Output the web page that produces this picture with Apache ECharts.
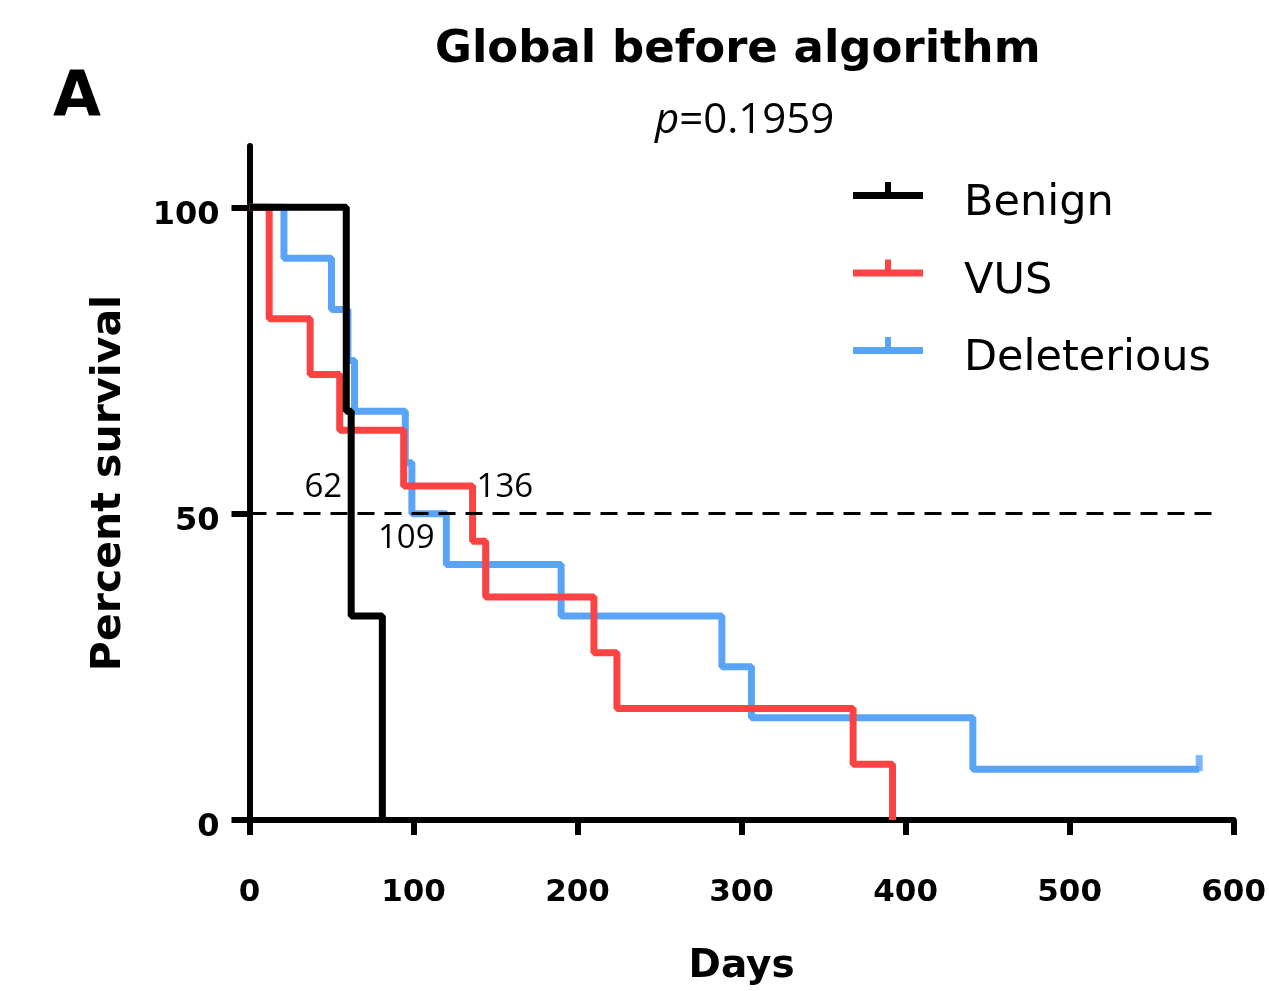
<!DOCTYPE html>
<html>
<head>
<meta charset="utf-8">
<script src="https://cdn.jsdelivr.net/npm/echarts@6/dist/echarts.min.js"></script>
<style>
    html, body { margin: 0; padding: 0; background: #fff; }
    #chart { width: 1269px; height: 991px; }
</style>
</head>
<body>
<div id="chart"></div>
<script>
(function () {

    "use strict";

    // Kaplan-Meier steps (days, percent survival)
    var groupNames = ["Benign", "VUS", "Deleterious"];
    var benignDays = [0, 59, 62, 81];
    var benignSurvival = [100, 66.7, 33.3, 0];
    var vusDays = [0, 12, 37, 55, 94, 136, 144, 210, 224, 368, 392];
    var vusSurvival = [100, 81.8, 72.7, 63.6, 54.5, 45.5, 36.4, 27.3, 18.2, 9.1, 0];
    var deleteriousDays = [0, 21, 50, 60, 64, 95, 99, 120, 190, 288, 306, 441, 579];
    var deleteriousSurvival = [100, 91.7, 83.3, 75, 66.7, 58.3, 50, 41.7, 33.3, 25, 16.7, 8.3, 8.3];
    var deleteriousCensored = [579];

    var medianDays = [62, 109, 136];
    var medianLevel = 50;
    var medianLineEnd = 590;

    var yTickValues = [0, 50, 100];
    var pValue = "0.1959";

    var colors = {
        Benign: "#000000",
        VUS: "#fb4343",
        Deleterious: "#5aa4f8"
    };

    function zip(xs, ys) {
        return xs.map(function (x, i) { return [x, ys[i]]; });
    }

    function kmSeries(name, days, survival) {
        return {
            name: name,
            type: "line",
            step: "end",
            symbol: "none",
            data: zip(days, survival),
            lineStyle: { width: 7, color: colors[name] },
            itemStyle: { color: colors[name] }
        };
    }

    var censorPoints = deleteriousCensored.map(function (d) {
        return [d, deleteriousSurvival[deleteriousDays.indexOf(d)]];
    });

    // label placement for the median annotations
    var medianLabelStyle = [
        { align: "right", offset: [-9, -26] },
        { align: "center", offset: [-22, 25] },
        { align: "left", offset: [4, -26] }
    ];

    var chart = echarts.init(document.getElementById("chart"));

    var option = {
        animation: false,
        backgroundColor: "#fff",
        title: [{
            text: "Global before algorithm",
            left: 435,
            top: 28,
            padding: 0,
            textStyle: { fontFamily: "DejaVu Sans", fontWeight: "bold", fontSize: 45, color: "#000" }
        }, {
            text: "{i|p}=" + pValue,
            left: 655,
            top: 100,
            padding: 0,
            textStyle: {
                fontFamily: "Open Sans", fontWeight: "normal", fontSize: 42, color: "#000",
                rich: { i: { fontFamily: "Open Sans", fontStyle: "italic", fontSize: 42, color: "#000" } }
            }
        }, {
            text: "A",
            left: 53,
            top: 68,
            padding: 0,
            textStyle: { fontFamily: "DejaVu Sans", fontWeight: "bold", fontSize: 62, color: "#000" }
        }],
        legend: {
            data: groupNames,
            orient: "vertical",
            left: 853,
            top: 182,
            padding: 0,
            itemWidth: 70,
            itemHeight: 44,
            itemGap: 33.5,
            selectedMode: false,
            icon: "path://M0,13L70,13L70,20L0,20Z M32,3L38,3L38,13L32,13Z M0,47L0.01,47",
            itemStyle: { borderWidth: 0 },
            textStyle: {
                fontFamily: "DejaVu Sans", fontSize: 43, color: "#000",
                lineHeight: 44, padding: [0, 0, 0, 36]
            }
        },
        grid: { left: 249.5, right: 33.5, top: 146, bottom: 166 },
        xAxis: {
            type: "value",
            min: 0,
            max: 600,
            interval: 100,
            name: "Days",
            nameLocation: "middle",
            nameGap: 127,
            nameTextStyle: { fontFamily: "DejaVu Sans", fontWeight: "bold", fontSize: 39, color: "#000" },
            axisLine: { lineStyle: { color: "#000", width: 6 } },
            axisTick: { length: 15, lineStyle: { color: "#000", width: 6 } },
            axisLabel: { margin: 57, fontFamily: "DejaVu Sans", fontWeight: "bold", fontSize: 31, color: "#000" },
            splitLine: { show: false }
        },
        yAxis: {
            type: "value",
            min: 0,
            max: 110,
            interval: 50,
            name: "Percent survival",
            nameLocation: "middle",
            nameGap: 120,
            nameRotate: 90,
            nameTextStyle: { fontFamily: "DejaVu Sans", fontWeight: "bold", fontSize: 41, color: "#000" },
            axisLine: { show: true, lineStyle: { color: "#000", width: 6 } },
            axisTick: { show: true, length: 18, customValues: yTickValues, lineStyle: { color: "#000", width: 6 } },
            axisLabel: {
                margin: 30,
                customValues: yTickValues,
                formatter: "{v|{value}}",
                rich: {
                    v: {
                        padding: [16, 0, 0, 0],
                        fontFamily: "DejaVu Sans", fontWeight: "bold", fontSize: 32, color: "#000"
                    }
                }
            },
            splitLine: { show: false }
        },
        series: [
            kmSeries("Deleterious", deleteriousDays, deleteriousSurvival),
            kmSeries("VUS", vusDays, vusSurvival),
            kmSeries("Benign", benignDays, benignSurvival),
            {
                name: "censored",
                type: "scatter",
                data: censorPoints,
                symbol: "rect",
                symbolSize: [7, 16],
                symbolOffset: [0, -6],
                itemStyle: { color: colors.Deleterious },
                z: 1
            },
            {
                name: "medians",
                type: "scatter",
                symbolSize: 1,
                itemStyle: { color: "rgba(0,0,0,0)" },
                data: medianDays.map(function (d, i) {
                    return {
                        value: [d, medianLevel],
                        label: {
                            show: true,
                            position: "inside",
                            align: medianLabelStyle[i].align,
                            verticalAlign: "middle",
                            offset: medianLabelStyle[i].offset,
                            formatter: String(d),
                            fontFamily: "Open Sans",
                            fontSize: 33,
                            color: "#000",
                            textBorderWidth: 0,
                            opacity: 1
                        }
                    };
                }),
                markLine: {
                    silent: true,
                    symbol: "none",
                    label: { show: false },
                    lineStyle: { type: [17, 10], width: 3, color: "#000" },
                    data: [[{ coord: [0, medianLevel] }, { coord: [medianLineEnd, medianLevel] }]]
                },
                z: 5
            }
        ]
    };

    chart.setOption(option);

})();
</script>
</body>
</html>
